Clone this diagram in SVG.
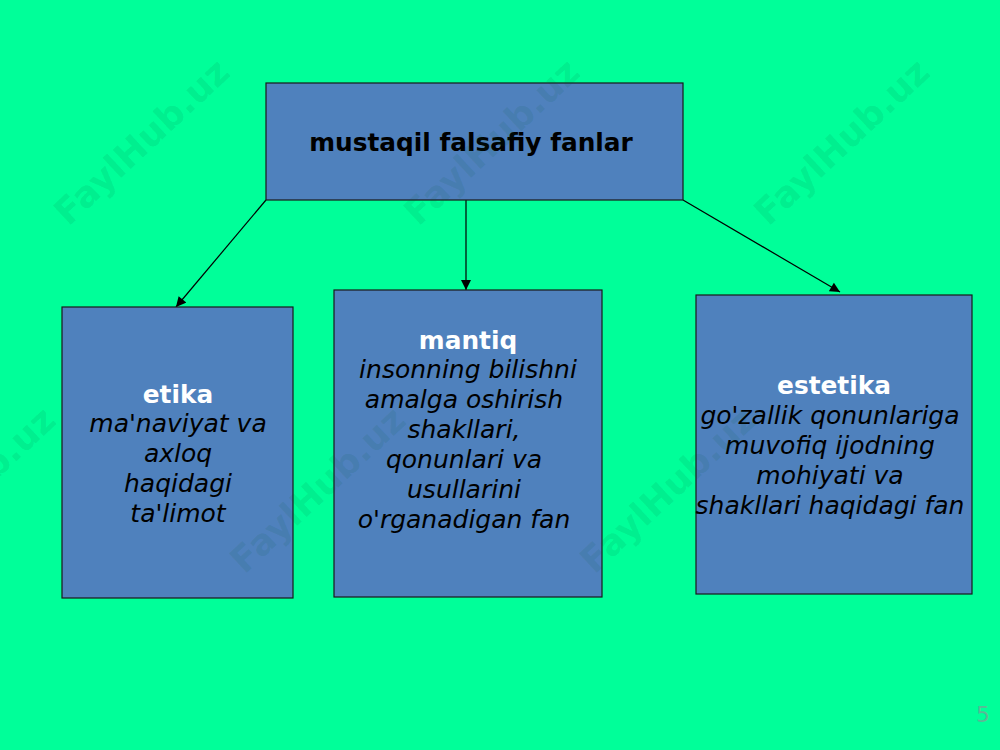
<svg xmlns="http://www.w3.org/2000/svg" width="1000" height="750" viewBox="0 0 1000 750">
<style>
.box{fill:#4f81bd;stroke:#1a1a1a;stroke-width:1.2}
.ttl{font-family:"DejaVu Sans",Verdana,sans-serif;font-size:24.8px;font-weight:bold;text-anchor:middle}
.it{font-family:"DejaVu Sans",Verdana,sans-serif;font-size:25px;font-style:italic;fill:#000;text-anchor:middle}
.wm{font-family:"DejaVu Sans",Verdana,sans-serif;font-size:36px;font-weight:bold;fill:#005a36;fill-opacity:0.1;text-anchor:middle}
.con{stroke:#000;stroke-width:1.2;fill:none;marker-end:url(#ah)}
</style>
<defs>
<marker id="ah" viewBox="0 0 10 10" refX="10" refY="5" markerWidth="11" markerHeight="10" markerUnits="userSpaceOnUse" orient="auto">
<path d="M0,0 L10,5 L0,10 z" fill="#000"/>
</marker>
</defs>
<rect width="1000" height="750" fill="#00ff99"/>
<g id="connectors">
<line class="con" x1="266" y1="200" x2="176" y2="307"/>
<line class="con" x1="466" y1="200" x2="466" y2="290"/>
<line class="con" x1="683" y1="200" x2="840" y2="292"/>
</g>
<g id="top">
<rect class="box" x="266" y="83" width="417" height="117"/>
<text class="ttl" x="471" y="151" fill="#000">mustaqil falsafiy fanlar</text>
</g>
<g id="etika">
<rect class="box" x="62" y="307" width="231" height="291"/>
<text class="ttl" x="178" y="403" fill="#fff">etika</text>
<text class="it" x="178" y="432">ma'naviyat va</text>
<text class="it" x="178" y="462">axloq</text>
<text class="it" x="178" y="492">haqidagi</text>
<text class="it" x="178" y="522">ta'limot</text>
</g>
<g id="mantiq">
<rect class="box" x="334" y="290" width="268" height="307"/>
<text class="ttl" x="468" y="349" fill="#fff">mantiq</text>
<text class="it" x="468" y="378">insonning bilishni</text>
<text class="it" x="464" y="408">amalga oshirish</text>
<text class="it" x="464" y="438">shakllari,</text>
<text class="it" x="464" y="468">qonunlari va</text>
<text class="it" x="464" y="498">usullarini</text>
<text class="it" x="464" y="528">o'rganadigan fan</text>
</g>
<g id="estetika">
<rect class="box" x="696" y="295" width="276" height="299"/>
<text class="ttl" x="834" y="394" fill="#fff">estetika</text>
<text class="it" x="830" y="424">go'zallik qonunlariga</text>
<text class="it" x="830" y="454">muvofiq ijodning</text>
<text class="it" x="830" y="484">mohiyati va</text>
<text class="it" x="830" y="514">shakllari haqidagi fan</text>
</g>
<g id="watermarks">
<text class="wm" transform="translate(142,142) rotate(-43)" dy="12">FaylHub.uz</text>
<text class="wm" transform="translate(492,142) rotate(-43)" dy="12">FaylHub.uz</text>
<text class="wm" transform="translate(842,142) rotate(-43)" dy="12">FaylHub.uz</text>
<text class="wm" transform="translate(-32,490) rotate(-43)" dy="12">FaylHub.uz</text>
<text class="wm" transform="translate(318,490) rotate(-43)" dy="12">FaylHub.uz</text>
<text class="wm" transform="translate(668,490) rotate(-43)" dy="12">FaylHub.uz</text>
</g>
<text x="983" y="722" font-family="DejaVu Sans,Verdana,sans-serif" font-size="22" fill="#5cb896" text-anchor="middle">5</text>
</svg>
